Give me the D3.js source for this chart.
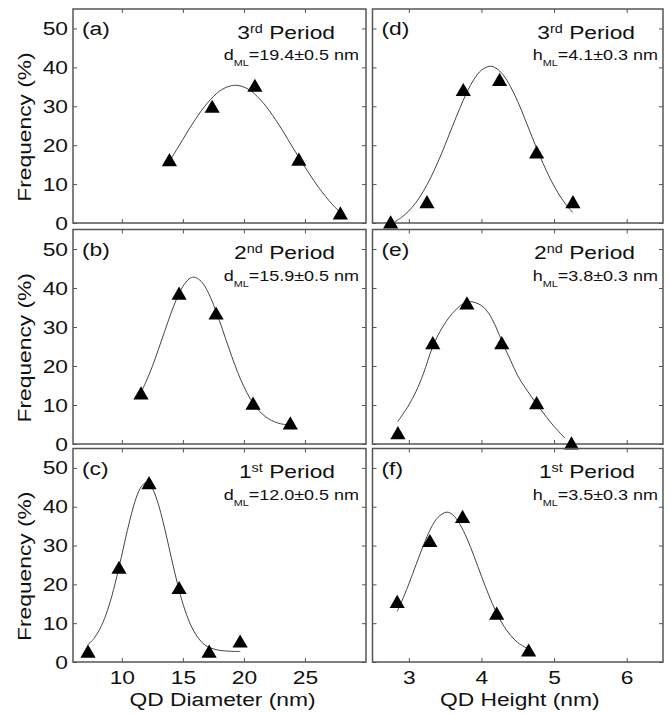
<!DOCTYPE html>
<html>
<head>
<meta charset="utf-8">
<script src="https://cdn.jsdelivr.net/npm/d3@7"></script>
<style>
  body { margin: 0; background: #fff; }
  text { font-family: "Liberation Sans", Arial, sans-serif; fill: #111; }
</style>
</head>
<body>
<svg id="chart" width="670" height="714"></svg>
<script>
// axis domains and ticks
var diamDomain = [6, 30];
var heightDomain = [2.5, 6.5];
var freqDomain = [0, 55];
var diamTicks = [10, 15, 20, 25];
var heightTicks = [3, 4, 5, 6];
var freqTicks = [0, 10, 20, 30, 40, 50];

// panel texts
var panelLetters = ["(a)", "(b)", "(c)", "(d)", "(e)", "(f)"];
var periodNums = ["3", "2", "1", "3", "2", "1"];
var periodSups = ["rd", "nd", "st", "rd", "nd", "st"];
var mlSymbols = ["d", "d", "d", "h", "h", "h"];
var mlValues = ["=19.4\u00b10.5 nm", "=15.9\u00b10.5 nm", "=12.0\u00b10.5 nm",
                "=4.1\u00b10.3 nm", "=3.8\u00b10.3 nm", "=3.5\u00b10.3 nm"];

// (a) 3rd period, diameter
var aX = [13.9, 17.4, 20.9, 24.5, 27.9];
var aY = [16.3, 30.0, 35.4, 16.4, 2.6];
var aFitX = [13.9, 14.5, 15, 15.5, 16, 16.5, 17, 17.5, 18, 18.5, 19, 19.3, 19.6, 20.1, 20.6, 21.1,
             21.6, 22.1, 22.6, 23.1, 23.6, 24.1, 24.7, 25.2, 25.7, 26.2, 26.7, 27.2, 27.7, 28];
var aFitY = [15.9, 18.9, 21.5, 24.1, 26.5, 28.8, 30.8, 32.5, 33.9, 34.8, 35.3, 35.4, 35.3, 34.8, 33.9, 32.5,
             30.8, 28.8, 26.5, 24.1, 21.5, 18.9, 15.9, 13.4, 11.0, 8.8, 6.8, 4.9, 3.3, 2.45];

// (b) 2nd period, diameter
var bX = [11.57, 14.69, 17.72, 20.75, 23.8];
var bY = [13.1, 38.7, 33.6, 10.5, 5.4];
var bFitX = [11.6, 12, 12.5, 13, 13.5, 14, 14.5, 15, 15.5, 15.9, 16.5, 17, 17.5, 18, 18.5,
             19, 19.5, 20, 20.5, 21, 21.5, 22, 22.5, 23, 23.8];
var bFitY = [13.4, 16.1, 19.9, 24.3, 28.8, 33.3, 37.3, 40.4, 42.3, 42.8, 41.7, 39.3, 35.8, 31.6, 27.0,
             22.5, 18.3, 14.7, 11.7, 9.4, 7.7, 6.5, 5.7, 5.2, 4.8];

// (c) 1st period, diameter
var cX = [7.23, 9.77, 12.23, 14.69, 17.15, 19.69];
var cY = [2.8, 24.4, 46.2, 19.2, 2.8, 5.4];
var cFitX = [7.2, 7.7, 8.2, 8.7, 9.2, 9.7, 10.2, 10.7, 11.2, 11.6, 12.0, 12.4, 12.8, 13.3, 13.8,
             14.3, 14.8, 15.3, 15.8, 16.3, 16.8, 17.3, 18.0, 19.0, 19.7];
var cFitY = [4.4, 6.0, 8.5, 12.2, 17.2, 23.5, 30.4, 37.1, 42.5, 45.2, 46.2, 45.2, 42.5, 37.1, 30.4,
             23.5, 17.2, 12.2, 8.5, 6.0, 4.4, 3.6, 3.0, 2.75, 2.7];

// (d) 3rd period, height
var dX = [2.75, 3.25, 3.75, 4.25, 4.76, 5.26];
var dY = [0.3, 5.5, 34.3, 36.9, 18.3, 5.5];
var dFitX = [2.8, 2.9, 3.0, 3.1, 3.2, 3.3, 3.4, 3.5, 3.6, 3.7, 3.8, 3.9, 4.0, 4.12, 4.2, 4.3,
             4.4, 4.5, 4.6, 4.7, 4.8, 4.9, 5.0, 5.1, 5.2, 5.26];
var dFitY = [0.24, 1.44, 3.1, 5.3, 8.15, 11.6, 15.65, 20.1, 24.8, 29.4, 33.6, 37.0, 39.3, 40.3, 39.8, 38.05,
             35.05, 31.2, 26.7, 22.0, 17.4, 13.2, 9.5, 6.4, 3.9, 2.7];

// (e) 2nd period, height
var eX = [2.85, 3.33, 3.80, 4.28, 4.76, 5.24];
var eY = [2.9, 26.0, 36.2, 26.0, 10.6, 0.3];
var eFitX = [2.85, 3.0, 3.1, 3.2, 3.33, 3.45, 3.6, 3.75, 3.85, 4.0, 4.1, 4.2, 4.3, 4.4, 4.5,
             4.6, 4.7, 4.8, 4.9, 5.0, 5.15];
var eFitY = [5.8, 10, 13.5, 18, 25, 29.5, 33.5, 36, 36.5, 35.5, 33.5, 30, 25.5, 21.5, 17.5,
             14.5, 11.8, 9.2, 6.8, 4.5, 1.5];

// (f) 1st period, height
var fX = [2.84, 3.29, 3.74, 4.21, 4.65];
var fY = [15.6, 31.3, 37.5, 12.6, 3.1];
var fFitX = [2.84, 2.9, 3.0, 3.1, 3.2, 3.3, 3.4, 3.52, 3.6, 3.7, 3.8, 3.9, 4.0, 4.1, 4.2,
             4.3, 4.4, 4.5, 4.65];
var fFitY = [13.0, 15.5, 20.1, 25.1, 30.0, 34.3, 37.25, 38.6, 38.0, 35.6, 31.85, 27.15, 22.1, 17.3, 13.0,
             9.5, 6.9, 5.0, 3.3];

var panels = [
  { col: 0, row: 0, xs: aX, ys: aY, fitX: aFitX, fitY: aFitY },
  { col: 0, row: 1, xs: bX, ys: bY, fitX: bFitX, fitY: bFitY },
  { col: 0, row: 2, xs: cX, ys: cY, fitX: cFitX, fitY: cFitY },
  { col: 1, row: 0, xs: dX, ys: dY, fitX: dFitX, fitY: dFitY },
  { col: 1, row: 1, xs: eX, ys: eY, fitX: eFitX, fitY: eFitY },
  { col: 1, row: 2, xs: fX, ys: fY, fitX: fFitX, fitY: fFitY }
];

// layout
var colX = [[73, 366], [372.5, 663]];
var rowY = [[9, 223], [229.5, 444], [448.5, 662]];
var titleInset = [31, 28];
var mlInset = [7, 5];
var stretch = "scale(1.2,1)";
var frameColor = "#555";

var svg = d3.select("#chart");
var tri = d3.symbol(d3.symbolTriangle, 100);
var triOffset = Math.sqrt(100 / (3 * Math.sqrt(3))) / 2;

function styleAxis(g) {
  g.select(".domain").remove();
  g.selectAll(".tick line").attr("stroke", frameColor).attr("stroke-width", 1);
  g.selectAll("text")
    .attr("font-size", 19)
    .attr("font-family", "'Liberation Sans', Arial, sans-serif")
    .attr("fill", "#111");
}

panels.forEach(function(p, i) {
  var x0 = colX[p.col][0], x1 = colX[p.col][1];
  var top = rowY[p.row][0], bottom = rowY[p.row][1];
  var x = d3.scaleLinear(p.col === 0 ? diamDomain : heightDomain, [x0, x1]);
  var y = d3.scaleLinear(freqDomain, [bottom, top]);
  var xt = p.col === 0 ? diamTicks : heightTicks;
  var g = svg.append("g");

  // axes (ticks inside on all four sides)
  g.append("g")
    .attr("transform", "translate(0," + bottom + ")")
    .call(d3.axisBottom(x).tickValues(xt).tickSize(-4).tickSizeOuter(0)
      .tickFormat(p.row === 2 ? d3.format("d") : ""))
    .call(styleAxis)
    .selectAll("text")
    .attr("y", 22).attr("dy", 0)
    .attr("transform", stretch);

  g.append("g")
    .attr("transform", "translate(0," + top + ")")
    .call(d3.axisTop(x).tickValues(xt).tickSize(-4).tickSizeOuter(0).tickFormat(""))
    .call(styleAxis);

  g.append("g")
    .attr("transform", "translate(" + x0 + ",0)")
    .call(d3.axisLeft(y).tickValues(freqTicks).tickSize(-4).tickSizeOuter(0)
      .tickFormat(p.col === 0 ? d3.format("d") : ""))
    .call(styleAxis)
    .selectAll("text")
    .attr("x", 0)
    .attr("transform", "translate(-5,0) " + stretch);

  g.append("g")
    .attr("transform", "translate(" + x1 + ",0)")
    .call(d3.axisRight(y).tickValues(freqTicks).tickSize(-4).tickSizeOuter(0).tickFormat(""))
    .call(styleAxis);

  g.append("rect")
    .attr("x", x0).attr("y", top)
    .attr("width", x1 - x0).attr("height", bottom - top)
    .attr("fill", "none")
    .attr("stroke", frameColor)
    .attr("stroke-width", 1.5);

  // fit curve
  g.append("path")
    .datum(d3.zip(p.fitX, p.fitY))
    .attr("d", d3.line()
      .x(function(d) { return x(d[0]); })
      .y(function(d) { return y(d[1]); })
      .curve(d3.curveCatmullRom))
    .attr("fill", "none")
    .attr("stroke", "#444")
    .attr("stroke-width", 1);

  // measured points
  g.selectAll(".pt")
    .data(d3.zip(p.xs, p.ys))
    .enter()
    .append("path")
    .attr("class", "pt")
    .attr("d", tri)
    .attr("transform", function(d) {
      return "translate(" + x(d[0]) + "," + (y(d[1]) + triOffset) + ")";
    })
    .attr("fill", "#000");

  // panel letter
  g.append("text")
    .attr("transform", "translate(" + (x0 + 9) + "," + (top + 26) + ") " + stretch)
    .attr("font-size", 19)
    .text(panelLetters[i]);

  // period title
  var t = g.append("text")
    .attr("transform", "translate(" + (x1 - titleInset[p.col]) + "," + (top + 29.5) + ") " + stretch)
    .attr("text-anchor", "end")
    .attr("font-size", 19);
  t.append("tspan").text(periodNums[i]);
  t.append("tspan").attr("font-size", 12).attr("dy", -6).text(periodSups[i]);
  t.append("tspan").attr("dy", 6).text(" Period");

  // most likely size
  var m = g.append("text")
    .attr("transform", "translate(" + (x1 - mlInset[p.col]) + "," + (top + 51) + ") " + stretch)
    .attr("text-anchor", "end")
    .attr("font-size", 15);
  m.append("tspan").text(mlSymbols[i]);
  m.append("tspan").attr("font-size", 9).attr("dy", 6).text("ML");
  m.append("tspan").attr("dy", -6).text(mlValues[i]);

  // y title
  if (p.col === 0) {
    svg.append("text")
      .attr("transform", "translate(31," + ((top + bottom) / 2 + 11) + ") rotate(-90) " + stretch)
      .attr("text-anchor", "middle")
      .attr("font-size", 19)
      .text("Frequency (%)");
  }
});

// x titles
svg.append("text")
  .attr("transform", "translate(" + ((colX[0][0] + colX[0][1]) / 2 + 3) + ",706) " + stretch)
  .attr("text-anchor", "middle")
  .attr("font-size", 19)
  .text("QD Diameter (nm)");

svg.append("text")
  .attr("transform", "translate(" + ((colX[1][0] + colX[1][1]) / 2 + 2) + ",706) " + stretch)
  .attr("text-anchor", "middle")
  .attr("font-size", 19)
  .text("QD Height (nm)");
</script>
</body>
</html>
